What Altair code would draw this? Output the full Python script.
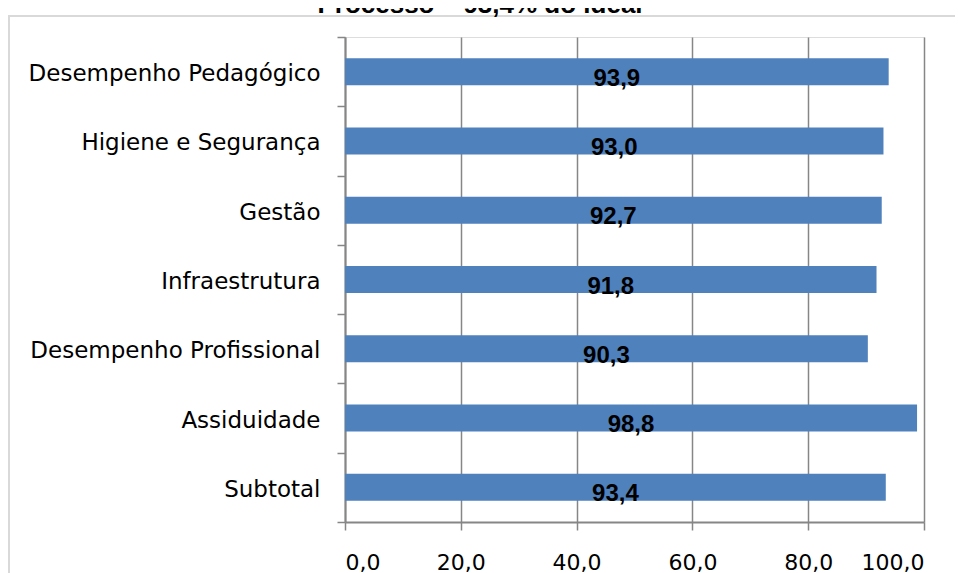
import altair as alt
import pandas as pd

categories = ["Desempenho Pedagógico", "Higiene e Segurança", "Gestão", "Infraestrutura",
              "Desempenho Profissional", "Assiduidade", "Subtotal"]
values = [93.9, 93.0, 92.7, 91.8, 90.3, 98.8, 93.4]
x_ticks = [0, 20, 40, 60, 80, 100]
title_text = "Processo – 93,4% do ideal"

df = pd.DataFrame({"cat": categories, "value": values})

FONT = "Liberation Sans"
LFONT = "DejaVu Sans"
GRAY = "#868686"

base = alt.Chart(df)

y_enc = alt.Y(
    "cat:N", sort=categories,
    scale=alt.Scale(paddingInner=0, paddingOuter=0),
    axis=alt.Axis(title=None, tickBand="extent", tickSize=8, tickColor=GRAY, tickWidth=1.5,
                  domainColor=GRAY, domainWidth=2, labelFont=LFONT, labelFontSize=23,
                  labelColor="#000000", labelPadding=17, labelLimit=400, labelOffset=2,
                  grid=False),
)
x_enc = alt.X(
    "value:Q", scale=alt.Scale(domain=[0, 100], nice=False),
    axis=alt.Axis(title=None, values=x_ticks,
                  labelExpr="replace(format(datum.value, '.1f'), '.', ',')",
                  grid=True, gridColor=GRAY, gridWidth=1.5, tickSize=8, tickColor=GRAY,
                  tickWidth=1.5, domainColor=GRAY, domainWidth=2, labelFont=LFONT,
                  labelFontSize=22, labelColor="#000000", labelPadding=22),
)

bars = base.mark_bar(color="#4F81BD", size=27).encode(x=x_enc, y=y_enc)

labels = base.transform_calculate(
    mid="datum.value / 2",
    txt="replace(format(datum.value, '.1f'), '.', ',')",
).mark_text(font=FONT, fontSize=24, fontWeight="bold", color="#000000",
            baseline="alphabetic", dy=14).encode(
    x=alt.X("mid:Q"), y=alt.Y("cat:N", sort=categories), text="txt:N"
)

title = alt.Chart(pd.DataFrame({"t": [title_text]})).mark_text(
    font=FONT, fontSize=26, fontWeight="bold", color="#000000", baseline="alphabetic"
).encode(x=alt.value(135), y=alt.value(-24), text="t:N")

frame_top = alt.Chart(pd.DataFrame({"a": [0]})).mark_rule(color="#D9D9D9", strokeWidth=2).encode(
    x=alt.value(-337), x2=alt.value(610), y=alt.value(-21))
frame_left = alt.Chart(pd.DataFrame({"a": [0]})).mark_rule(color="#D9D9D9", strokeWidth=2).encode(
    x=alt.value(-336), y=alt.value(-21), y2=alt.value(540))

chart = alt.layer(frame_top, frame_left, bars, labels, title).properties(
    width=579, height=485,
    autosize=alt.AutoSizeParams(type="none"),
    padding={"left": 337, "top": 29, "right": 31, "bottom": 51},
).configure_view(stroke=None).configure(background="white")

chart.save("out.html", embed_options={"renderer": "svg", "actions": False})
